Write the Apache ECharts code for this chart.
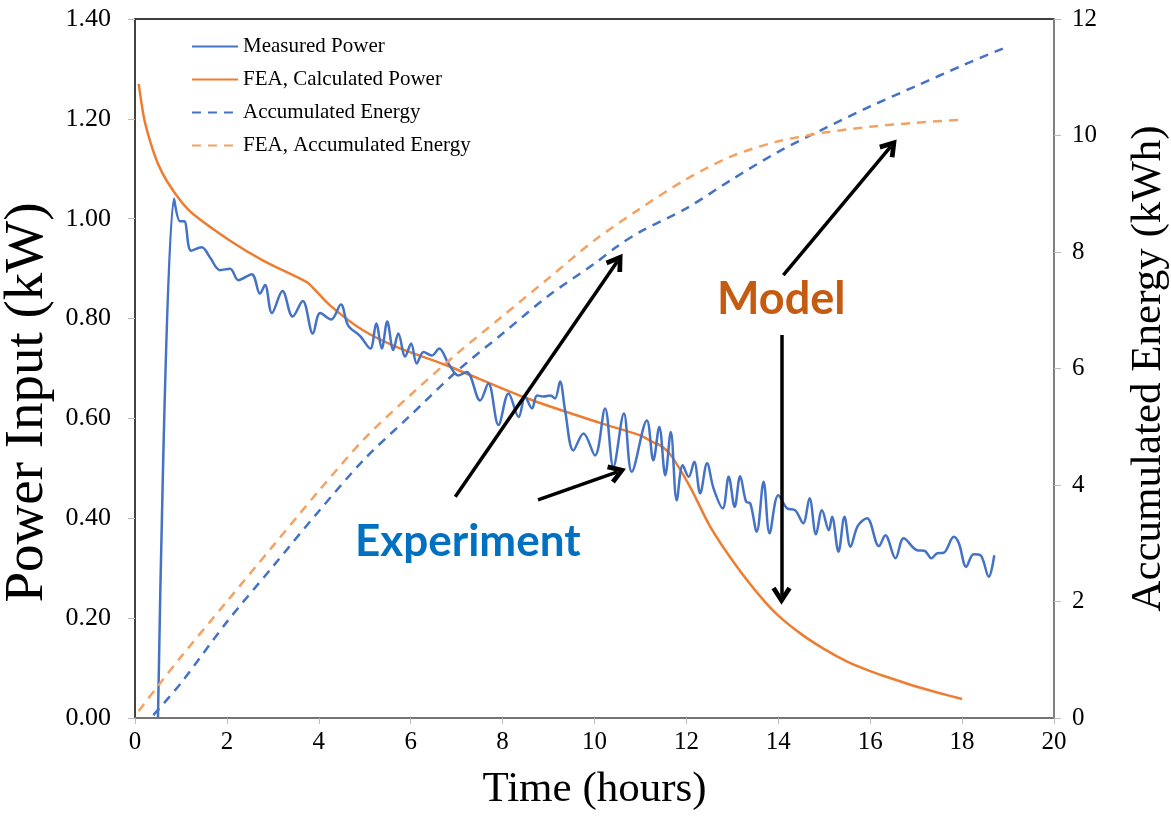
<!DOCTYPE html>
<html>
<head>
<meta charset="utf-8">
<script src="https://cdn.jsdelivr.net/npm/echarts@6/dist/echarts.min.js"></script>
<style>html,body{margin:0;padding:0;background:#fff}#c{width:1171px;height:820px}</style>
</head>
<body>
<div id="c"></div>
<script>
// ---- data (time in hours) ----
const seriesNames = ['Measured Power', 'FEA, Calculated Power', 'Accumulated Energy', 'FEA, Accumulated Energy'];
const xTicks = [0, 2, 4, 6, 8, 10, 12, 14, 16, 18, 20];
const powerTicks = [0, 0.2, 0.4, 0.6, 0.8, 1.0, 1.2, 1.4];
const energyTicks = [0, 2, 4, 6, 8, 10, 12];

const measuredPower = [
  [0.5,0],[0.85,1.04],[0.98,0.995],[1.07,0.995],[1.22,0.936],[1.45,0.943],[1.63,0.923],[1.85,0.897],
  [2.07,0.90],[2.25,0.877],[2.54,0.889],[2.72,0.85],[2.83,0.867],[2.98,0.811],[3.21,0.855],[3.43,0.804],
  [3.65,0.835],[3.87,0.77],[4.03,0.811],[4.27,0.798],[4.48,0.828],[4.64,0.786],[4.9,0.765],[5.12,0.74],
  [5.25,0.79],[5.37,0.74],[5.49,0.794],[5.62,0.737],[5.73,0.77],[5.88,0.724],[6.01,0.75],[6.13,0.71],
  [6.28,0.733],[6.46,0.726],[6.62,0.74],[6.82,0.71],[7.04,0.686],[7.22,0.693],[7.51,0.636],[7.69,0.67],
  [7.91,0.587],[8.13,0.65],[8.35,0.603],[8.49,0.643],[8.64,0.62],[8.75,0.646],[8.89,0.644],[9.04,0.646],
  [9.14,0.64],[9.25,0.674],[9.36,0.616],[9.54,0.536],[9.76,0.57],[10.01,0.526],[10.23,0.62],[10.41,0.503],
  [10.64,0.61],[10.81,0.493],[11.14,0.596],[11.28,0.516],[11.41,0.583],[11.54,0.486],[11.66,0.573],[11.79,0.436],
  [11.92,0.506],[12.05,0.483],[12.17,0.513],[12.3,0.45],[12.45,0.51],[12.59,0.46],[12.79,0.42],[12.92,0.483],
  [13.05,0.423],[13.17,0.484],[13.3,0.433],[13.39,0.43],[13.53,0.373],[13.68,0.473],[13.81,0.37],[14.0,0.446],
  [14.19,0.42],[14.37,0.416],[14.54,0.39],[14.68,0.44],[14.82,0.368],[14.95,0.416],[15.1,0.376],[15.17,0.403],
  [15.31,0.333],[15.44,0.403],[15.57,0.343],[15.73,0.385],[15.93,0.4],[16.19,0.344],[16.33,0.366],[16.55,0.32],
  [16.73,0.36],[17.02,0.336],[17.18,0.335],[17.33,0.32],[17.46,0.33],[17.6,0.331],[17.82,0.363],[17.93,0.35],
  [18.09,0.303],[18.25,0.328],[18.4,0.326],[18.58,0.283],[18.7,0.326]
];

const feaPower = [
  [0.08,1.27],[0.2,1.2],[0.33,1.155],[0.5,1.11],[0.69,1.076],[1.0,1.035],[1.27,1.009],[2.07,0.956],[2.79,0.916],
  [3.74,0.873],[3.85,0.864],[4.25,0.826],[4.97,0.776],[5.7,0.743],[6.79,0.706],[8.45,0.643],[10.12,0.591],
  [10.99,0.566],[11.28,0.552],[11.43,0.546],[11.65,0.528],[12.08,0.463],[12.52,0.383],[13.1,0.303],[13.64,0.24],
  [14,0.205],[14.5,0.168],[15,0.138],[15.5,0.113],[16,0.094],[16.5,0.078],[17,0.063],[17.5,0.05],[18,0.038]
];

const measuredEnergy = [
  [0.4,0.05],[1,0.6],[2,1.65],[3,2.6],[4,3.55],[5,4.45],[6,5.2],[7,5.95],[8,6.6],[9,7.25],[10,7.8],
  [10.5,8.1],[11,8.35],[12,8.75],[13,9.25],[14,9.72],[15,10.12],[16,10.5],[17,10.85],[18,11.2],[19,11.53]
];

const feaEnergy = [
  [0.08,0.12],[0.5,0.55],[1,1.05],[2,2.0],[3,2.95],[4,3.9],[5,4.8],[6,5.55],[7,6.25],[8,6.9],[9,7.55],
  [10,8.2],[11,8.75],[12,9.25],[13,9.65],[14,9.9],[15,10.05],[16,10.15],[17,10.22],[18,10.27]
];

// annotation arrows in data coordinates [t, power]
const arrows = [
  [[6.97,0.443],[10.5,0.915]],
  [[8.77,0.437],[10.5,0.493]],
  [[14.11,0.887],[16.45,1.145]],
  [[14.07,0.767],[14.07,0.245]]
];

const serif = 'Liberation Serif, Times New Roman, serif';
const BLUE = '#4472C4', ORANGE = '#ED7D31', ORANGE_L = '#F4A261';

const chart = echarts.init(document.getElementById('c'));
chart.setOption({
  animation: false,
  backgroundColor: '#fff',
  grid: { left: 135, right: 117, top: 19, bottom: 102, show: true, borderColor: '#000', borderWidth: 1.5,
          containLabel: false, outerBoundsMode: 'none' },
  legend: {
    orient: 'vertical', left: 186, top: 31, itemWidth: 46, itemHeight: 14, itemGap: 12,
    itemStyle: { opacity: 0, borderWidth: 0 },
    textStyle: { fontFamily: serif, fontSize: 21, color: '#000' },
    data: seriesNames
  },
  xAxis: {
    type: 'value', min: xTicks[0], max: xTicks[xTicks.length-1], interval: 2,
    name: 'Time (hours)', nameLocation: 'middle', nameGap: 50,
    nameTextStyle: { fontFamily: serif, fontSize: 43, color: '#000' },
    axisLine: { lineStyle: { color: '#888', width: 1.5 } },
    axisTick: { show: true, length: 6, lineStyle: { color: '#bbb' } },
    axisLabel: { fontFamily: serif, fontSize: 25, color: '#000', margin: 12 },
    splitLine: { show: false }
  },
  yAxis: [{
    type: 'value', min: 0, max: 1.4, interval: 0.2,
    name: 'Power Input (kW)', nameLocation: 'middle', nameGap: 76,
    nameTextStyle: { fontFamily: serif, fontSize: 55, color: '#000', padding: [0, 68, 0, 0] },
    axisLine: { show: true, lineStyle: { color: '#444', width: 1.5 } },
    axisTick: { show: true, length: 7, lineStyle: { color: '#bbb' } },
    axisLabel: { fontFamily: serif, fontSize: 26, color: '#000', margin: 24, formatter: v => v.toFixed(2) },
    splitLine: { show: false }
  }, {
    type: 'value', min: 0, max: 12, interval: 2, position: 'right',
    name: 'Accumulated Energy (kWh)', nameLocation: 'middle', nameGap: 73, nameRotate: 90,
    nameTextStyle: { fontFamily: serif, fontSize: 43, color: '#000' },
    axisLine: { show: true, lineStyle: { color: '#999', width: 1.5 } },
    axisTick: { show: true, length: 7, lineStyle: { color: '#bbb' } },
    axisLabel: { fontFamily: serif, fontSize: 25, color: '#000', margin: 18 },
    splitLine: { show: false }
  }],
  series: [
    { name: seriesNames[0], type: 'line', yAxisIndex: 0, data: measuredPower, smooth: 0.35, symbol: 'none',
      lineStyle: { color: BLUE, width: 2.5 }, itemStyle: { color: BLUE }, z: 3 },
    { name: seriesNames[1], type: 'line', yAxisIndex: 0, data: feaPower, smooth: 0.3, symbol: 'none',
      lineStyle: { color: ORANGE, width: 2.5 }, itemStyle: { color: ORANGE }, z: 2,
      markLine: {
        silent: true, symbol: ['none', 'path://M5,0 L10,8 L8,9.4 L5,4.4 L2,9.4 L0,8 Z'], symbolSize: [20, 18],
        itemStyle: { color: '#000' },
        lineStyle: { color: '#000', width: 3.5, type: 'solid' }, label: { show: false },
        data: arrows.map(a => [{ coord: a[0] }, { coord: a[1] }])
      } },
    { name: seriesNames[2], type: 'line', yAxisIndex: 1, data: measuredEnergy, smooth: 0.3, symbol: 'none',
      lineStyle: { color: BLUE, width: 2.5, type: [9, 7] }, itemStyle: { color: BLUE } },
    { name: seriesNames[3], type: 'line', yAxisIndex: 1, data: feaEnergy, smooth: 0.3, symbol: 'none',
      lineStyle: { color: ORANGE_L, width: 2.5, type: [9, 7] }, itemStyle: { color: ORANGE_L } }
  ],
  graphic: [
    { type: 'text', left: 355, top: 520, style: { text: 'Experiment', fontFamily: 'Lato, Open Sans, sans-serif', fontWeight: 'bold', fontSize: 44, fill: '#0070C0' } },
    { type: 'text', left: 717, top: 277, style: { text: 'Model', fontFamily: 'Lato, Open Sans, sans-serif', fontWeight: 'bold', fontSize: 45, fill: '#C55A11' } }
  ]
});
</script>
</body>
</html>
